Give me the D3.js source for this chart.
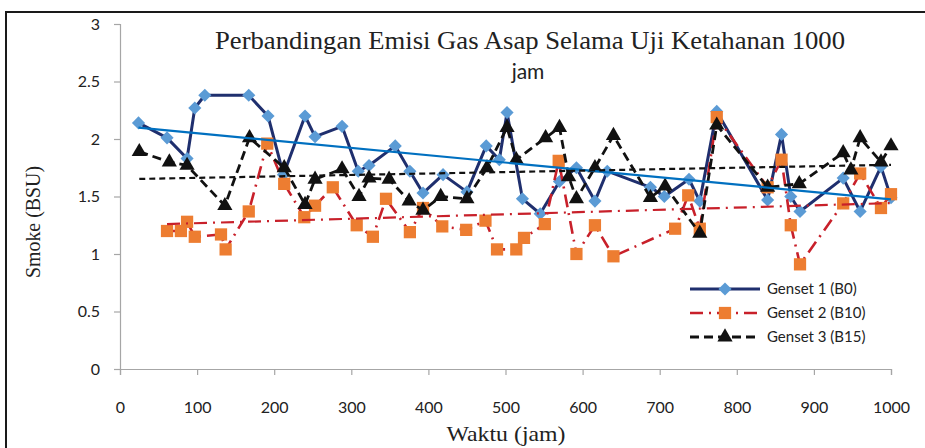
<!DOCTYPE html>
<html>
<head>
<meta charset="utf-8">
<script src="https://cdn.jsdelivr.net/npm/d3@7"></script>
<style>
  body { margin: 0; background: #fff; }
  svg { display: block; }
</style>
</head>
<body>
<script>
// data
var series_names = ["Genset 1 (B0)", "Genset 2 (B10)", "Genset 3 (B15)"];

var genset1 = [
  [24, 2.14], [61, 2.01], [87, 1.83], [97, 2.27], [110, 2.38], [167, 2.38],
  [192, 2.20], [212, 1.69], [240, 2.20], [253, 2.02], [288, 2.11], [309, 1.72],
  [323, 1.77], [357, 1.94], [376, 1.72], [393, 1.53], [419, 1.69], [450, 1.54],
  [475, 1.94], [492, 1.82], [502, 2.23], [522, 1.48], [545, 1.35], [570, 1.63],
  [592, 1.75], [616, 1.46], [632, 1.72], [688, 1.58], [706, 1.50], [738, 1.65],
  [752, 1.46], [774, 2.24], [840, 1.47], [858, 2.04], [870, 1.50], [882, 1.37],
  [938, 1.66], [960, 1.37], [987, 1.76], [1000, 1.49]
];

var genset2 = [
  [61, 1.20], [79, 1.20], [87, 1.28], [97, 1.15], [131, 1.17], [137, 1.04],
  [167, 1.37], [191, 1.96], [213, 1.61], [239, 1.32], [253, 1.42], [276, 1.58],
  [307, 1.25], [328, 1.15], [345, 1.48], [376, 1.19], [393, 1.40], [418, 1.24],
  [449, 1.21], [474, 1.29], [489, 1.04], [514, 1.04], [524, 1.14], [551, 1.26],
  [569, 1.81], [592, 1.00], [616, 1.25], [640, 0.98], [720, 1.22], [737, 1.51],
  [752, 1.22], [774, 2.19], [840, 1.58], [858, 1.82], [870, 1.25], [882, 0.91],
  [938, 1.44], [960, 1.70], [987, 1.40], [1000, 1.52]
];

var genset3 = [
  [25, 1.89], [64, 1.80], [87, 1.77], [136, 1.42], [168, 2.01], [213, 1.75],
  [240, 1.43], [253, 1.65], [288, 1.74], [310, 1.50], [323, 1.66], [349, 1.65],
  [375, 1.46], [393, 1.38], [416, 1.50], [450, 1.48], [476, 1.75], [502, 2.10],
  [514, 1.82], [552, 2.01], [570, 2.10], [582, 1.67], [592, 1.48], [616, 1.75],
  [640, 2.03], [688, 1.49], [707, 1.59], [752, 1.18], [774, 2.12], [840, 1.58],
  [881, 1.61], [938, 1.88], [948, 1.73], [960, 2.01], [987, 1.80], [1000, 1.94]
];

var x_ticks = d3.range(0, 1001, 100);
var y_ticks = [0, 0.5, 1, 1.5, 2, 2.5, 3];

var width = 925, height = 448;
var plot = { left: 120, right: 891, top: 24, bottom: 369 };

var svg = d3.select("body").append("svg")
            .attr("width", width)
            .attr("height", height);

// outer frame (right and bottom edges fall outside the picture)
svg.append("rect")
   .attr("x", 6).attr("y", 12)
   .attr("width", 1000).attr("height", 1000)
   .attr("fill", "none")
   .attr("stroke", "#1a1a1a")
   .attr("stroke-width", 2);

var x = d3.scaleLinear().domain([0, 1000]).range([plot.left, plot.right]);
var y = d3.scaleLinear().domain([0, 3]).range([plot.bottom, plot.top]);

var x_axis = svg.append("g")
  .attr("transform", "translate(0," + plot.bottom + ")")
  .call(d3.axisBottom(x).tickValues(x_ticks).tickFormat(d3.format("")).tickSize(6).tickPadding(27));

var y_axis = svg.append("g")
  .attr("transform", "translate(" + plot.left + ",0)")
  .call(d3.axisLeft(y).tickValues(y_ticks).tickFormat(d3.format("")).tickSize(6).tickPadding(14));

[x_axis, y_axis].forEach(function(g) {
  g.selectAll("path, line").attr("stroke", "#a6a6a6").attr("stroke-width", 1.2);
  g.selectAll("text")
   .attr("fill", "#222")
   .style("font-family", "Lato, 'Open Sans', sans-serif")
   .style("font-size", "16px");
});

// linear trend (least squares), like the spreadsheet trendline
function trend(data) {
  var mx = d3.mean(data, d => d[0]), my = d3.mean(data, d => d[1]);
  var sxy = d3.sum(data, d => (d[0] - mx) * (d[1] - my));
  var sxx = d3.sum(data, d => (d[0] - mx) * (d[0] - mx));
  var b = sxy / sxx, a = my - b * mx;
  var x0 = d3.min(data, d => d[0]), x1 = d3.max(data, d => d[0]);
  return [[x0, a + b * x0], [x1, a + b * x1]];
}

var line = d3.line().x(d => x(d[0])).y(d => y(d[1]));

var styles = [
  { data: genset1, stroke: "#1f2f6e", width: 3, dash: null,
    marker: d3.symbolDiamond2, msize: 110, mfill: "#5b9bd5",
    tstroke: "#0070c0", twidth: 2.2, tdash: null },
  { data: genset2, stroke: "#c8202a", width: 2.6, dash: "13,6,2,6",
    marker: d3.symbolSquare, msize: 150, mfill: "#ed7d31",
    tstroke: "#c8202a", twidth: 2.2, tdash: "13,6,2,6" },
  { data: genset3, stroke: "#111", width: 2.8, dash: "9,5",
    marker: d3.symbolTriangle, msize: 100, mfill: "#111",
    tstroke: "#111", twidth: 2.2, tdash: "6,4" }
];

styles.forEach(function(s) {
  svg.append("path")
     .attr("d", line(s.data))
     .attr("fill", "none")
     .attr("stroke", s.stroke)
     .attr("stroke-width", s.width)
     .attr("stroke-dasharray", s.dash)
     .attr("stroke-linejoin", "round");

  svg.selectAll(null)
     .data(s.data)
     .enter()
     .append("path")
     .attr("d", d3.symbol().type(s.marker).size(s.msize))
     .attr("transform", d => "translate(" + x(d[0]) + "," + y(d[1]) + ")")
     .attr("fill", s.mfill);
});

styles.forEach(function(s) {
  svg.append("path")
     .attr("d", line(trend(s.data)))
     .attr("fill", "none")
     .attr("stroke", s.tstroke)
     .attr("stroke-width", s.twidth)
     .attr("stroke-dasharray", s.tdash);
});

// legend
var legend = svg.append("g").attr("transform", "translate(690,289)");
styles.forEach(function(s, i) {
  var row = legend.append("g").attr("transform", "translate(0," + (i * 24) + ")");
  row.append("line")
     .attr("x1", 0).attr("x2", 70).attr("y1", 0).attr("y2", 0)
     .attr("stroke", s.stroke)
     .attr("stroke-width", s.width)
     .attr("stroke-dasharray", s.dash);
  row.append("path")
     .attr("d", d3.symbol().type(s.marker).size(s.msize))
     .attr("transform", "translate(35,0)")
     .attr("fill", s.mfill);
  row.append("text")
     .attr("x", 77).attr("y", 0)
     .attr("dy", "0.35em")
     .attr("fill", "#222")
     .style("font-family", "Lato, 'Open Sans', sans-serif")
     .style("font-size", "15px")
     .text(series_names[i]);
});

// titles
svg.append("text")
   .attr("x", 530).attr("y", 49)
   .attr("text-anchor", "middle")
   .attr("textLength", 630)
   .attr("lengthAdjust", "spacingAndGlyphs")
   .style("font-family", "'Liberation Serif', serif")
   .style("font-size", "26px")
   .attr("fill", "#222")
   .text("Perbandingan Emisi Gas Asap Selama Uji Ketahanan 1000");

svg.append("text")
   .attr("x", 528).attr("y", 79)
   .attr("text-anchor", "middle")
   .style("font-family", "Lato, 'Open Sans', sans-serif")
   .style("font-size", "21px")
   .attr("fill", "#222")
   .text("jam");

svg.append("text")
   .attr("x", 506).attr("y", 441)
   .attr("text-anchor", "middle")
   .attr("textLength", 119)
   .attr("lengthAdjust", "spacingAndGlyphs")
   .style("font-family", "'Liberation Serif', serif")
   .style("font-size", "21px")
   .attr("fill", "#222")
   .text("Waktu (jam)");

svg.append("text")
   .attr("transform", "translate(40,222) rotate(-90)")
   .attr("text-anchor", "middle")
   .attr("textLength", 112)
   .attr("lengthAdjust", "spacingAndGlyphs")
   .style("font-family", "'Liberation Serif', serif")
   .style("font-size", "22px")
   .attr("fill", "#222")
   .text("Smoke (BSU)");
</script>
</body>
</html>
